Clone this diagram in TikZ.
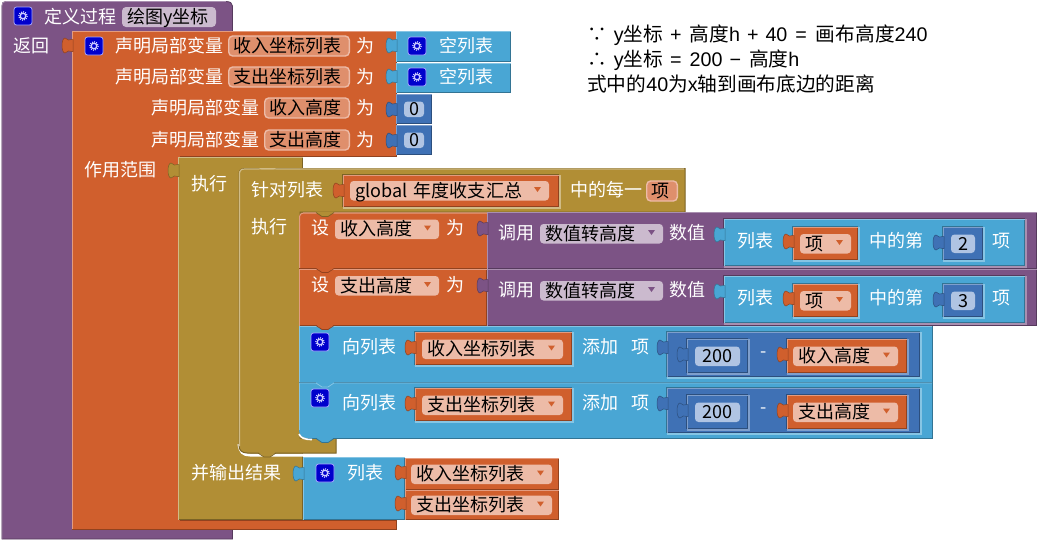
\documentclass[tikz,border=0pt]{standalone}
\usepackage{fontspec}
\setmainfont{Noto Sans CJK SC}
\newfontfamily\latf{Liberation Sans}
\definecolor{puF}{HTML}{7C5385}\definecolor{puL}{HTML}{A98FB0}\definecolor{puD}{HTML}{563A5D}\definecolor{puX}{HTML}{CBBACE}
\definecolor{orF}{HTML}{D05F2D}\definecolor{orL}{HTML}{E39B7F}\definecolor{orD}{HTML}{91421F}\definecolor{orX}{HTML}{EDBBA7}\definecolor{orN}{HTML}{DF8F6C}
\definecolor{olF}{HTML}{B18E35}\definecolor{olL}{HTML}{D0BB86}\definecolor{olD}{HTML}{7B6325}
\definecolor{blF}{HTML}{49A6D4}\definecolor{blL}{HTML}{86C5E4}\definecolor{blD}{HTML}{337494}
\definecolor{nuF}{HTML}{3F71B5}\definecolor{nuL}{HTML}{7F9FCC}\definecolor{nuD}{HTML}{2C4F7E}\definecolor{nuX}{HTML}{B0C4E3}
\tikzset{
  x=1pt,y=-1pt,
  wt/.style={anchor=base west,inner sep=0pt,text=white,font=\fontsize{18}{18}\selectfont,yshift=-6.3pt},
  bt/.style={wt,text=black},
  nt/.style={anchor=base,inner sep=0pt,text=black,font=\fontsize{18}{18}\selectfont,yshift=-6.3pt},
  note/.style={anchor=base west,inner sep=0pt,text=black,font=\fontsize{19.7}{19.7}\selectfont,yshift=-6.6pt},
  edgeln/.style={line width=1.1pt,line cap=rect}
}
% rectangular block: x0,y0,x1,y1,colour prefix
\newcommand\blk[5]{%
  \fill[#5F] (#1,#2) rectangle (#3,#4);
  \draw[edgeln,#5D] (#1+.5,#4-.5) -- (#3-.5,#4-.5) -- (#3-.5,#2+.5);
  \draw[edgeln,#5L] (#1+.5,#4-.5) -- (#1+.5,#2+.5) -- (#3-.5,#2+.5);}
% hole edge round an inline input: x0,y0,x1,y1,parent prefix
\newcommand\halo[5]{%
  \draw[#5L,line width=1.6pt] (#3+.8,#2) -- (#3+.8,#4+.8) -- (#1,#4+.8);
  \draw[#5D,line width=.8pt] (#1-.4,#4) -- (#1-.4,#2-.4) -- (#3,#2-.4);}
% left-hand puzzle tab: x, y0, colour prefix
\newcommand\tabL[3]{%
  \fill[#3F,draw=#3D,line width=.5pt] (#1+1,#2+6.5) -- (#1,#2+6.5) .. controls (#1-2,#2+7.5) and (#1-5,#2+7.5) .. (#1-7,#2+5)
    .. controls (#1-9,#2+5) and (#1-10,#2+9) .. (#1-10,#2+12.5)
    .. controls (#1-10,#2+16) and (#1-9,#2+20) .. (#1-7,#2+20)
    .. controls (#1-5,#2+17.5) and (#1-2,#2+17.5) .. (#1,#2+18.5) -- (#1+1,#2+18.5) -- cycle;}
% notch hanging below an edge: x, y, colour prefix
\newcommand\notch[3]{%
  \fill[#3F] (#1-9,#2-1) -- (#1-3,#2+4) -- (#1+3,#2+4) -- (#1+9,#2-1) -- cycle;
  \draw[#3D,line width=.7pt] (#1-9,#2) -- (#1-3,#2+4) -- (#1+3,#2+4) -- (#1+9,#2);}
% gear icon
\newcommand\gear[2]{%
  \fill[blue!80!black,draw=white!65!blue,line width=.8pt,rounded corners=2.5pt] (#1-9,#2-9) rectangle (#1+9,#2+9);
  \draw[white!80!blue,line width=1.3pt] (#1,#2) circle (2.8);
  \draw[white!80!blue,line width=1.2pt,dash pattern=on 1pt off 1.2pt] (#1,#2) circle (4.3);}
% dropdown field: name,x0,x1,yc,text,prefix
\newcommand\dd[6]{%
  \fill[#6X,rounded corners=3.5pt] (#2,#4-10) rectangle (#3,#4+9.5);
  \fill[#6F] (#3-15,#4-4) -- (#3-8,#4-4) -- (#3-11.5,#4+1) -- cycle;
  \node[bt] (#1) at (#2+5,#4) {#5};}
% editable field: name,x0,x1,yc,text
\newcommand\ef[5]{%
  \fill[orN,draw=orX,line width=1.4pt,rounded corners=4pt] (#2+.7,#4-10) rectangle (#3-.7,#4+10);
  \node[bt] (#1) at (#2+5,#4) {#5};}
% number block: name,x0,x1,y0,y1,text
\newcommand\num[6]{%
  \blk{#2}{#4}{#3}{#5}{nu}
  \tabL{#2}{#4+3}{nu}
  \fill[nuX,rounded corners=3.5pt] (#2+8,#4+7.5) rectangle (#3-8,#5-7);
  \node[nt] (#1) at ({(#2+#3)/2},{(#4+#5)/2+.5}) {#6};}
\begin{document}
\begin{tikzpicture}
\useasboundingbox (0,0) rectangle (1039,541);
\fill[white] (0,0) rectangle (1039,541);
% procedure
\fill[puF,draw=puD,line width=.8pt] (2,6) .. controls (2,3) and (3,1.5) .. (6,1.5) -- (226,1.5) .. controls (230,1.5) and (232.5,3) .. (232.5,6) -- (232.5,539) -- (2,539) -- cycle;
\draw[puL,line width=.8pt] (2,539) -- (2,6) .. controls (2,3) and (3,1.5) .. (6,1.5) -- (226,1.5);
\gear{23}{16}
\node[wt] (t1) at (44,17) {定义过程};
\fill[puX,rounded corners=4pt] (122,7) rectangle (216,27);
\node[bt] (t2) at (127,17) {绘图y坐标};
\node[wt] (t3) at (13,46) {返回};
% local declare block
\fill[orF,draw=orD,line width=1pt] (72,31) -- (396,31) -- (396,156) -- (180,156) -- (180,520) -- (396,520) -- (396,529) -- (72,529) -- cycle;
\draw[orL,line width=1.2pt] (72.5,529) -- (72.5,31.5) -- (396,31.5);
\tabL{72}{33}{or}
\gear{94}{46}
\node[wt] (t4) at (115,46) {声明局部变量};
\ef{f1}{228}{350}{46}{收入坐标列表}
\node[wt] (t5) at (356,46) {为};
\node[wt] (t6) at (115,77) {声明局部变量};
\ef{f2}{228}{350}{77}{支出坐标列表}
\node[wt] (t7) at (356,77) {为};
\node[wt] (t8) at (151,108) {声明局部变量};
\ef{f3}{264}{350}{108}{收入高度}
\node[wt] (t9) at (356,108) {为};
\node[wt] (t10) at (151,140) {声明局部变量};
\ef{f4}{264}{350}{140}{支出高度}
\node[wt] (t11) at (356,140) {为};
\node[wt] (t12) at (84,170) {作用范围};
% empty lists
\blk{396}{31}{511}{62}{bl}\tabL{396}{33}{bl}\gear{417}{46}\node[wt] (t13) at (439,46) {空列表};
\blk{396}{63}{511}{93}{bl}\tabL{396}{64}{bl}\gear{417}{77}\node[wt] (t14) at (439,77) {空列表};
\num{n1}{396}{432}{94}{124}{0}
\num{n2}{396}{432}{125}{155}{0}
% do-result block
\blk{178}{157}{303}{520}{ol}
\tabL{178}{158}{ol}
\node[wt] (t15) at (191,184) {执行};
\node[wt] (t16) at (191,473) {并输出结果};
% white gap under the foreach block
\draw[white,line width=3pt] (239,444) .. controls (240,452) and (243,455) .. (250,455) -- (304,455);
% foreach block
\fill[olF,draw=olD,line width=1pt] (239,174) .. controls (239,170) and (241,168.5) .. (245,168.5) -- (685,168.5) -- (685,212) -- (300,212) -- (300,438) -- (336,438) -- (336,453) -- (247,453) .. controls (242,453) and (239,450) .. (239,446) -- cycle;
\draw[olL,line width=1.2pt] (239.5,446) -- (239.5,174) .. controls (239.5,170.5) and (241,169) .. (245,169) -- (684,169);
\fill[olL] (259,168) -- (265,172.5) -- (270,172.5) -- (276,168) -- cycle;
\fill[olF] (259,169.5) -- (265,174) -- (270,174) -- (276,169.5) -- cycle;
\notch{267}{453}{ol}
\node[wt] (t17) at (251,190) {针对列表};
\halo{343}{175}{559}{207}{ol}
\blk{343}{175}{559}{207}{or}\tabL{343}{178}{or}
\dd{f5}{350}{549}{191}{global\hspace{2pt} 年度收支\hspace{1pt}汇总}{or}
\node[wt] (t18) at (570,190) {中的每一};
\ef{f6}{646}{678}{191}{项}
\node[wt] (t19) at (251,227) {执行};
% set rows
\fill[orF] (305,212.5) -- (487,212.5) -- (487,269) -- (299,269) -- (299,218) .. controls (299,214) and (301,212.5) .. (305,212.5) -- cycle;
\draw[orL,line width=1pt] (299.5,269) -- (299.5,218) .. controls (299.5,214.5) and (301,213) .. (305,213) -- (487,213);
\notch{325}{212.5}{ol}
\blk{299}{269}{487}{326}{or}
\notch{325}{268.5}{or}
\draw[orD,line width=.8pt] (299,268.5) -- (316,268.5) (334,268.5) -- (487,268.5);
\notch{325}{325.5}{or}
\node[wt] (t20) at (311,228) {设};
\dd{f7}{335}{439}{229.5}{收入高度}{or}
\node[wt] (t21) at (446,228) {为};
\node[wt] (t22) at (311,285) {设};
\dd{f8}{335}{439}{286}{支出高度}{or}
\node[wt] (t23) at (446,285) {为};
% call rows
\newcommand\callrow[4]{%
  \blk{487}{#1}{1037}{#1+57}{pu}\tabL{487}{#1+4}{pu}
  \node[wt] (c#2a) at (498,#1+21.5) {调用};
  \dd{c#2b}{540}{663}{#1+22}{数值转高度}{pu}
  \node[wt] (c#2c) at (669,#1+21.5) {数值};
  \halo{724}{#1+7}{1025}{#1+54}{pu}
  \blk{724}{#1+7}{1025}{#1+54}{bl}\tabL{724}{#1+10}{bl}
  \node[wt] (c#2d) at (737,#1+29.5) {列表};
  \halo{793}{#1+15}{858}{#1+48}{bl}
  \blk{793}{#1+15}{858}{#1+48}{or}\tabL{793}{#1+17}{or}
  \dd{c#2e}{800}{851}{#1+32}{项}{or}
  \node[wt] (c#2f) at (869,#1+29.5) {中的第};
  \halo{943}{#1+15}{983}{#1+48}{bl}
  \num{c#2g}{943}{983}{#1+15}{#1+48}{#3}
  \node[wt] (c#2h) at (992,#1+29.5) {项};}
\callrow{212}{x}{2}{}
\callrow{269}{y}{3}{}
% add rows
\fill[blF] (299,326) -- (932,326) -- (932,438) -- (307,438) .. controls (302,438) and (299,435) .. (299,430) -- cycle;
\draw[blD,line width=1pt] (307,438) -- (932,438) -- (932,326);
\draw[blL,line width=1pt] (299.5,430) -- (299.5,326.5) -- (932,326.5);
\draw[white,line width=1.6pt] (299,434) .. controls (301,438) and (304,439.5) .. (312,439.5);
\notch{325}{325.5}{or}
\draw[blD,line width=.5pt] (299,382) -- (316,382) (334,382) -- (932,382);
\draw[blL,line width=.8pt] (299,383) -- (316,383) -- (322,387) -- (328,387) -- (334,383) -- (932,383);
\notch{325}{438.5}{bl}
\newcommand\addrow[4]{%
  \gear{320}{#1+16}
  \node[wt] (a#2a) at (342,#1+21) {向列表};
  \halo{415}{#1+6}{572}{#1+39}{bl}
  \blk{415}{#1+6}{572}{#1+39}{or}\tabL{415}{#1+9}{or}
  \dd{a#2b}{422}{563}{#1+23.5}{#3}{or}
  \node[wt] (a#2c) at (582,#1+21) {添加};
  \node[wt] (a#2d) at (631,#1+21) {项};
  \halo{667}{#1+6}{920}{#1+51}{bl}
  \blk{667}{#1+6}{920}{#1+51}{nu}\tabL{667}{#1+9}{nu}
  \halo{687}{#1+13}{748}{#1+47}{nu}
  \num{a#2e}{687}{748}{#1+13}{#1+47}{200}
  \node[inner sep=0pt,text=white,font=\fontsize{18}{18}\selectfont] (a#2f) at (764,#1+29) {-};
  \halo{787}{#1+13}{907}{#1+47}{nu}
  \blk{787}{#1+13}{907}{#1+47}{or}\tabL{787}{#1+16}{or}
  \dd{a#2g}{793}{898}{#1+30.5}{#4}{or}}
\addrow{326}{x}{收入坐标列表}{收入高度}
\addrow{382}{y}{支出坐标列表}{支出高度}
% make-list block
\blk{303}{457}{405}{520}{bl}\tabL{303}{461}{bl}
\gear{325}{473}
\node[wt] (t24) at (347,473) {列表};
\blk{405}{458}{559}{490}{or}\tabL{405}{460}{or}
\dd{f9}{411}{552}{474.5}{收入坐标列表}{or}
\blk{405}{490}{559}{520}{or}\tabL{405}{491}{or}
\dd{f10}{411}{552}{505.5}{支出坐标列表}{or}
% note
\node[note] (m1) at (587,35) {∵\hspace{7pt}{\latf y}坐标\hspace{7pt}{\latf +}\hspace{8pt}高度{\latf h}\hspace{7pt}{\latf +}\hspace{7pt}{\latf 40}\hspace{8pt}{\latf =}\hspace{9pt}画布高度{\latf 240}};
\node[note] (m2) at (587,60) {∴\hspace{7pt}{\latf y}坐标\hspace{7pt}{\latf =}\hspace{8pt}{\latf 200}\hspace{7pt}{\latf −}\hspace{8pt}高度{\latf h}};
\node[note] (m3) at (587,85) {式中的{\latf 40}为{\latf x}轴到画布底边的距离};
\end{tikzpicture}
\end{document}
